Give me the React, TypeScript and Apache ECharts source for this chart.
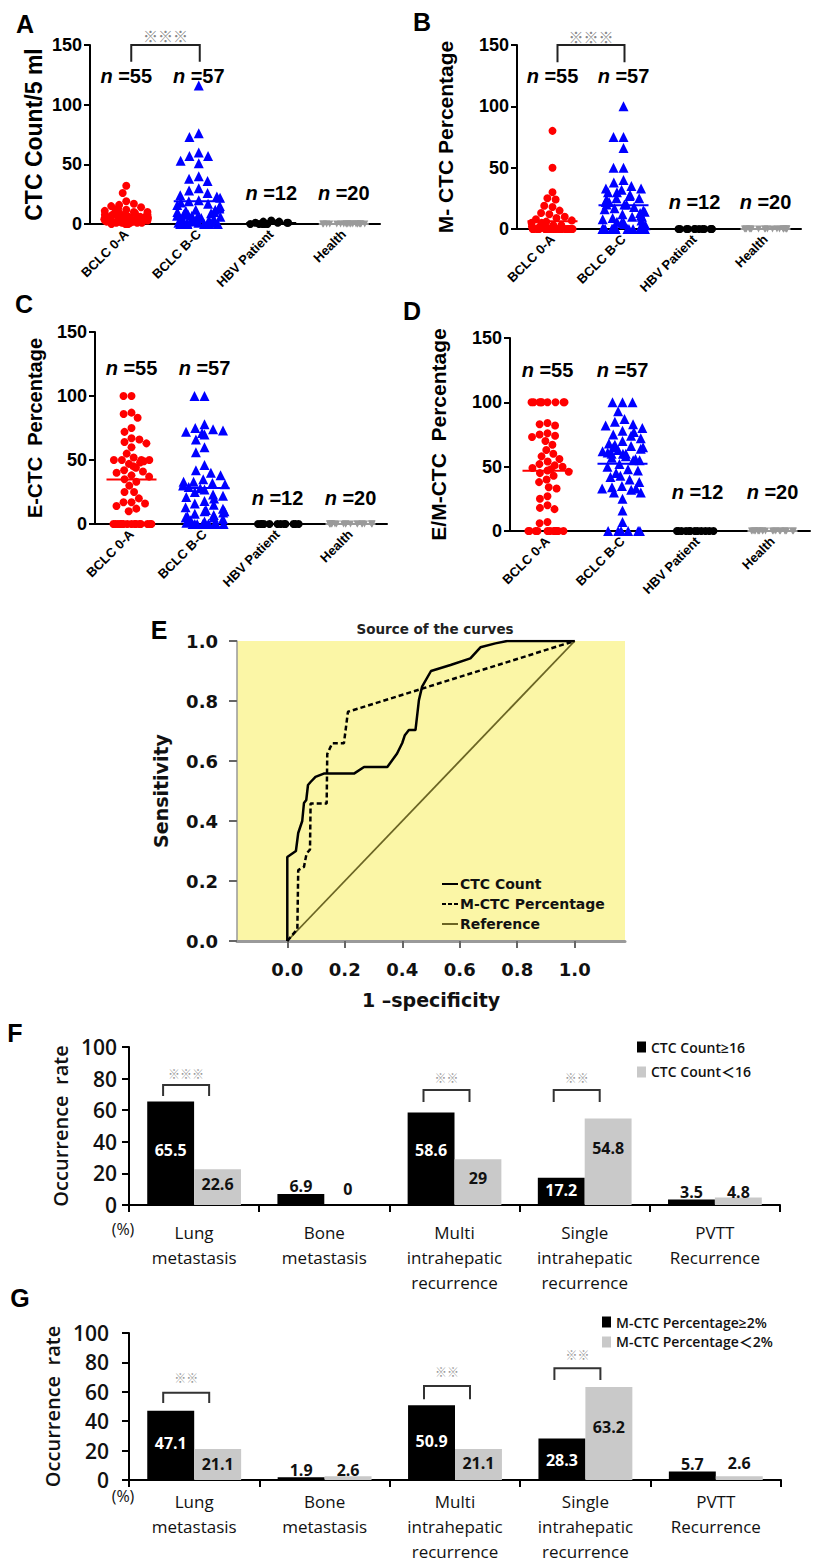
import React, { useEffect, useRef } from 'react';
import * as echarts from 'echarts';

const FONT = '"Liberation Sans", Arial, "Noto Sans CJK SC", sans-serif';
const FONTE = '"DejaVu Sans", Verdana, sans-serif';
const FONT2 = '"Open Sans", "Noto Sans", "Noto Sans CJK SC", sans-serif';
const CJK = '"Noto Sans CJK SC", "Noto Sans CJK JP", sans-serif';

// ---------- Panels A-D (scatter dot plots) ----------
const groups = ['BCLC 0-A', 'BCLC B-C', 'HBV Patient', 'Health'];
const groupN = [55, 57, 12, 20];

const ctcCount0A = [32, 26, 19, 17, 16, 15, 14, 13, 12, 12, 11, 10, 10, 9, 9, 9, 8, 8, 8, 7, 7, 7, 6, 6, 6, 6, 5, 5, 5, 5, 4, 4, 4, 4, 4, 3, 3, 3, 3, 3, 2, 2, 2, 2, 2, 2, 1, 1, 1, 1, 1, 0, 0, 0, 0];
const ctcCountBC = [116, 76, 73, 60, 57, 57, 53, 51, 40, 38, 36, 30, 28, 26, 24, 23, 22, 20, 19, 18, 17, 16, 15, 14, 13, 12, 12, 11, 10, 10, 9, 8, 8, 7, 7, 6, 6, 5, 5, 4, 4, 3, 3, 3, 2, 2, 2, 1, 1, 1, 1, 0, 0, 0, 0, 0, 0];
const ctcCountHBV = [3, 2, 2, 1, 1, 1, 1, 0, 0, 0, 0, 0];
const ctcCountHealth = [0, 0, 0, 0, 0, 0, 0, 0, 0, 0, 0, 0, 0, 0, 0, 0, 0, 0, 0, 0];

const mPct0A = [80, 50, 30, 25, 24, 19, 18, 15, 13, 12, 10, 9, 8, 7, 6, 5, 5, 4, 3, 3, 2, 2, 1, 0, 0, 0, 0, 0, 0, 0, 0, 0, 0, 0, 0, 0, 0, 0, 0, 0, 0, 0, 0, 0, 0, 0, 0, 0, 0, 0, 0, 0, 0, 0, 0];
const mPctBC = [100, 75, 75, 66, 50, 50, 40, 38, 35, 33, 33, 32, 30, 30, 28, 27, 25, 25, 24, 22, 22, 20, 20, 20, 18, 17, 16, 15, 14, 13, 12, 11, 10, 10, 9, 8, 7, 6, 5, 5, 4, 3, 2, 1, 0, 0, 0, 0, 0, 0, 0, 0, 0, 0, 0, 0, 0];
const mPctHBV = [0, 0, 0, 0, 0, 0, 0, 0, 0, 0, 0, 0];
const mPctHealth = [0, 0, 0, 0, 0, 0, 0, 0, 0, 0, 0, 0, 0, 0, 0, 0, 0, 0, 0, 0];

const ePct0A = [100, 100, 87, 86, 83, 75, 72, 67, 66, 64, 63, 60, 55, 52, 50, 50, 50, 50, 49, 48, 47, 45, 44, 42, 41, 40, 38, 37, 35, 33, 30, 25, 25, 20, 17, 17, 16, 14, 12, 10, 0, 0, 0, 0, 0, 0, 0, 0, 0, 0, 0, 0, 0, 0, 0];
const ePctBC = [100, 100, 78, 75, 74, 73, 72, 71, 70, 66, 60, 56, 46, 42, 40, 38, 35, 33, 33, 32, 31, 30, 29, 28, 27, 25, 23, 22, 21, 20, 18, 16, 15, 13, 12, 11, 10, 10, 9, 8, 7, 6, 5, 5, 4, 3, 2, 1, 0, 0, 0, 0, 0, 0, 0, 0, 0];
const ePctHBV = [0, 0, 0, 0, 0, 0, 0, 0, 0, 0, 0, 0];
const ePctHealth = [0, 0, 0, 0, 0, 0, 0, 0, 0, 0, 0, 0, 0, 0, 0, 0, 0, 0, 0, 0];

const emPct0A = [100, 100, 100, 100, 100, 100, 100, 100, 100, 84, 83, 82, 76, 75, 74, 73, 70, 67, 63, 60, 58, 56, 54, 52, 51, 50, 49, 48, 47, 46, 45, 43, 40, 38, 34, 33, 27, 25, 20, 18, 17, 7, 6, 0, 0, 0, 0, 0, 0, 0, 0, 0, 0, 0, 0];
const emPctBC = [100, 100, 100, 93, 87, 85, 83, 82, 80, 78, 77, 75, 74, 72, 70, 68, 67, 66, 65, 65, 64, 63, 62, 61, 60, 60, 60, 58, 57, 56, 55, 55, 52, 50, 48, 47, 45, 43, 42, 40, 38, 35, 34, 33, 33, 32, 30, 30, 25, 16, 7, 0, 0, 0, 0, 0, 0];
const emPctHBV = [0, 0, 0, 0, 0, 0, 0, 0, 0, 0, 0, 0];
const emPctHealth = [0, 0, 0, 0, 0, 0, 0, 0, 0, 0, 0, 0, 0, 0, 0, 0, 0, 0, 0, 0];

const panelValues = [
  [ctcCount0A, ctcCountBC, ctcCountHBV, ctcCountHealth],
  [mPct0A, mPctBC, mPctHBV, mPctHealth],
  [ePct0A, ePctBC, ePctHBV, ePctHealth],
  [emPct0A, emPctBC, emPctHBV, emPctHealth],
];
const panelYNames = ['CTC Count/5 ml', 'M- CTC Percentage', 'E-CTC  Percentage', 'E/M-CTC  Percentage'];
const scatterTicks = [0, 50, 100, 150];
const nLabelTop = [124, 125, 122, 125];
const nLabelBottom = [26, 22, 20, 30];
// significance brackets in A and B: [fromGroup, toGroup, top, legBottom, starsY]
const scatterBrackets = [[[0, 1, 150, 136, 158]], [[0, 1, 150, 136, 157]], [], []];

// ---------- Panel E (ROC) ----------
const rocCtcCount = [[0, 0], [0, 0.28], [0.03, 0.3], [0.038, 0.36], [0.045, 0.38], [0.052, 0.4], [0.058, 0.46], [0.066, 0.47], [0.072, 0.52], [0.081, 0.53], [0.098, 0.547], [0.127, 0.558], [0.232, 0.558], [0.267, 0.58], [0.348, 0.58], [0.382, 0.625], [0.4, 0.66], [0.409, 0.686], [0.423, 0.703], [0.446, 0.703], [0.458, 0.803], [0.469, 0.848], [0.5, 0.9], [0.568, 0.92], [0.637, 0.942], [0.672, 0.979], [0.724, 0.992], [0.765, 1.0], [1, 1]];
const rocMctcPct = [[0, 0], [0.035, 0.04], [0.038, 0.236], [0.058, 0.247], [0.067, 0.291], [0.079, 0.305], [0.081, 0.458], [0.137, 0.458], [0.139, 0.623], [0.156, 0.659], [0.197, 0.659], [0.211, 0.764], [1, 1]];
const rocReference = [[0, 0], [1, 1]];
const rocTicks = [0, 0.2, 0.4, 0.6, 0.8, 1.0];

// ---------- Panels F, G (bars) ----------
const outcomeCats = ['Lung\nmetastasis', 'Bone\nmetastasis', 'Multi\nintrahepatic\nrecurrence', 'Single\nintrahepatic\nrecurrence', 'PVTT\nRecurrence'];
const fNames = ['CTC Count≥16', 'CTC Count＜16'];
const fHigh = [65.5, 6.9, 58.6, 17.2, 3.5];
const fLow = [22.6, 0, 29, 54.8, 4.8];
const gNames = ['M-CTC Percentage≥2%', 'M-CTC Percentage＜2%'];
const gHigh = [47.1, 1.9, 50.9, 28.3, 5.7];
const gLow = [21.1, 2.6, 21.1, 63.2, 2.6];
const occTicks = [0, 20, 40, 60, 80, 100];
// brackets: [category, top, legBottom, starsY, starCount]
const fBrackets = [[0, 76, 69, 83.5, 3], [2, 72.8, 65.2, 81, 2], [3, 72.8, 65.2, 81, 2]];
const gBrackets = [[0, 59.3, 52.4, 69.6, 2], [2, 64, 55, 74, 2], [3, 76, 68, 85.5, 2]];

// label layout (style only): distance from bar bottom, and whether label sits inside a black bar
const fHighLabelDist = [47, 11, 47, 7, 5];
const fLowLabelDist = [13, 8, 19, 49, 5];
const gHighLabelDist = [29, 2, 31, 12, 8];
const gLowLabelDist = [8, 2, 9, 45, 9];
const fHighInside = [true, false, true, true, false];
const gHighInside = [true, false, true, true, false];

const groupColor = ['#ff0000', '#0000ff', '#000000', '#9a9a9a'];
const groupSymbol = ['circle', 'triangle', 'circle', 'triangle'];
const groupSize = [8, 10, 8, 7];
const groupRotate = [0, 0, 0, 180];

const scatterGrids = [
  { left: 90, top: 45, width: 290, height: 179 },
  { left: 517, top: 45, width: 284, height: 184 },
  { left: 95, top: 332, width: 292, height: 192 },
  { left: 510, top: 338, width: 300, height: 193 },
];
const yNameSizes = [23, 21, 20, 21];
const yNameGaps = [45, 61, 50, 61];

const SOLID_ICON = 'path://M0,0h16v2h-16z';
const DASH_ICON = 'path://M0,0h4v2h-4zM6,0h4v2h-4zM12,0h4v2h-4z';

const mean = (a: number[]) => a.reduce((s, v) => s + v, 0) / a.length;

function buildOption() {
  const grid: any[] = scatterGrids.map((g) => ({ ...g, outerBoundsMode: 'none', containLabel: false }));
  grid.push({ left: 237, top: 641, width: 388, height: 300, show: true, backgroundColor: '#fbf6a6', borderWidth: 0, outerBoundsMode: 'none', containLabel: false });
  grid.push({ left: 129, top: 1047, width: 651, height: 158, outerBoundsMode: 'none', containLabel: false });
  grid.push({ left: 129, top: 1333, width: 652, height: 147, outerBoundsMode: 'none', containLabel: false });

  const xAxis: any[] = [];
  const yAxis: any[] = [];
  const series: any[] = [];

  for (let p = 0; p < 4; p++) {
    xAxis.push({
      type: 'category', gridIndex: p, data: groups, boundaryGap: true,
      jitter: 44, jitterOverlap: false, jitterMargin: 0,
      axisLine: { lineStyle: { color: '#000', width: 2 } },
      axisTick: { show: false },
      axisLabel: { interval: 0, rotate: 45, fontSize: 13, fontWeight: 'bold', color: '#000', fontFamily: FONT, margin: 8 },
      splitLine: { show: false },
    });
    yAxis.push({
      type: 'value', gridIndex: p, min: scatterTicks[0], max: scatterTicks[scatterTicks.length - 1], interval: scatterTicks[1] - scatterTicks[0],
      name: panelYNames[p], nameLocation: 'middle', nameGap: yNameGaps[p], nameRotate: 90,
      nameTextStyle: { fontSize: yNameSizes[p], fontWeight: 'bold', color: '#000', fontFamily: FONT },
      axisLine: { show: true, lineStyle: { color: '#000', width: 2 } },
      axisTick: { show: true, length: 6, lineStyle: { color: '#000', width: 2 } },
      axisLabel: { fontSize: 18, fontWeight: 'bold', color: '#000', fontFamily: FONT, margin: 8 },
      splitLine: { show: false },
    });
    for (let g = 0; g < 4; g++) {
      series.push({
        type: 'scatter', xAxisIndex: p, yAxisIndex: p, silent: true, z: 3,
        data: panelValues[p][g].map((v) => [groups[g], v]),
        symbol: groupSymbol[g], symbolSize: groupSize[g], symbolRotate: groupRotate[g],
        itemStyle: { color: groupColor[g], opacity: 1 },
      });
    }
    series.push({
      type: 'custom', xAxisIndex: p, yAxisIndex: p, clip: false, silent: true, z: 5,
      data: panelValues[p].map((arr, g) => [g, mean(arr), g]),
      renderItem: (params: any, api: any) => {
        const c = api.coord([api.value(0), api.value(1)]);
        const g = api.value(2);
        return { type: 'line', shape: { x1: c[0] - 25, y1: c[1], x2: c[0] + 25, y2: c[1] }, style: { stroke: groupColor[g], lineWidth: 2 } };
      },
    });
    series.push({
      type: 'custom', xAxisIndex: p, yAxisIndex: p, clip: false, silent: true, z: 6,
      data: groups.map((_, g) => [g, g < 2 ? nLabelTop[p] : nLabelBottom[p], groupN[g]]),
      renderItem: (params: any, api: any) => {
        const c = api.coord([api.value(0), api.value(1)]);
        return {
          type: 'text', x: c[0], y: c[1],
          style: {
            text: '{i|n} =' + api.value(2), fill: '#000', fontSize: 20, fontWeight: 'bold', fontFamily: FONT,
            align: 'center', verticalAlign: 'middle',
            rich: { i: { fontStyle: 'italic', fontWeight: 'bold', fontSize: 20, fontFamily: FONT, fill: '#000' } },
          },
        };
      },
    });
    if (scatterBrackets[p].length) {
      series.push({
        type: 'custom', xAxisIndex: p, yAxisIndex: p, clip: false, silent: true, z: 6,
        data: scatterBrackets[p],
        renderItem: (params: any, api: any) => {
          const a = api.coord([api.value(0), api.value(2)]);
          const b = api.coord([api.value(1), api.value(2)]);
          const leg = api.coord([api.value(0), api.value(3)])[1];
          const s = api.coord([api.value(0), api.value(4)])[1];
          const x1 = a[0] + 5;
          const x2 = b[0] + 1;
          return {
            type: 'group', children: [
              { type: 'polyline', shape: { points: [[x1, leg], [x1, a[1]], [x2, a[1]], [x2, leg]] }, style: { stroke: '#222', lineWidth: 2, fill: 'none' } },
              { type: 'text', x: (x1 + x2) / 2, y: s, style: { text: '※※※', fill: '#888', fontSize: 15, fontFamily: CJK, align: 'center', verticalAlign: 'middle' } },
            ],
          };
        },
      });
    }
  }

  // ---- E ----
  xAxis.push({
    type: 'value', gridIndex: 4, min: -0.175, max: 1.175,
    name: '1 –specificity', nameLocation: 'middle', nameGap: 49,
    nameTextStyle: { fontSize: 19, fontWeight: 'bold', color: '#111', fontFamily: FONTE },
    axisLine: { show: true, onZero: false, lineStyle: { color: '#9a9a9a', width: 3 } },
    axisTick: { show: true, customValues: rocTicks, length: 7, lineStyle: { color: '#666', width: 2 } },
    axisLabel: { customValues: rocTicks, formatter: (v: number) => v.toFixed(1), fontSize: 18, fontWeight: 'bold', color: '#111', fontFamily: FONTE, margin: 19 },
    splitLine: { show: false },
  });
  yAxis.push({
    type: 'value', gridIndex: 4, min: 0, max: 1, interval: 0.2,
    name: 'Sensitivity', nameLocation: 'middle', nameGap: 67, nameRotate: 90,
    nameTextStyle: { fontSize: 19, fontWeight: 'bold', color: '#111', fontFamily: FONTE },
    axisLine: { show: true, onZero: false, lineStyle: { color: '#999', width: 1.5 } },
    axisTick: { show: true, length: 8, lineStyle: { color: '#666', width: 2 } },
    axisLabel: { formatter: (v: number) => v.toFixed(1), fontSize: 18, fontWeight: 'bold', color: '#111', fontFamily: FONTE, margin: 19 },
    splitLine: { show: false },
  });
  series.push(
    { name: 'CTC Count', type: 'line', xAxisIndex: 4, yAxisIndex: 4, data: rocCtcCount, symbol: 'none', lineStyle: { color: '#000', width: 2.5 }, itemStyle: { color: '#000' }, z: 4 },
    { name: 'M-CTC Percentage', type: 'line', xAxisIndex: 4, yAxisIndex: 4, data: rocMctcPct, symbol: 'none', lineStyle: { color: '#000', width: 2.5, type: [5, 3] }, itemStyle: { color: '#000' }, z: 4 },
    { name: 'Reference', type: 'line', xAxisIndex: 4, yAxisIndex: 4, data: rocReference, symbol: 'none', lineStyle: { color: '#6b6524', width: 1.8 }, itemStyle: { color: '#6b6524' }, z: 3 },
  );

  // ---- F, G ----
  const barPanels = [
    { grid: 5, names: fNames, high: fHigh, low: fLow, hd: fHighLabelDist, ld: fLowLabelDist, hin: fHighInside, br: fBrackets, labelMargin: 15, yMargin: 12, nameGap: 54 },
    { grid: 6, names: gNames, high: gHigh, low: gLow, hd: gHighLabelDist, ld: gLowLabelDist, hin: gHighInside, br: gBrackets, labelMargin: 9, yMargin: 20, nameGap: 65 },
  ];
  barPanels.forEach((bp) => {
    xAxis.push({
      type: 'category', gridIndex: bp.grid, data: outcomeCats, boundaryGap: true,
      axisLine: { lineStyle: { color: '#000', width: 2 } },
      axisTick: { show: true, alignWithLabel: false, length: 7, lineStyle: { color: '#000', width: 2 } },
      axisLabel: { interval: 0, fontSize: 17, lineHeight: 25, color: '#111', fontFamily: FONT2, margin: bp.labelMargin },
      splitLine: { show: false },
    });
    yAxis.push({
      type: 'value', gridIndex: bp.grid, min: occTicks[0], max: occTicks[occTicks.length - 1], interval: occTicks[1] - occTicks[0],
      name: 'Occurrence  rate', nameLocation: 'middle', nameGap: bp.nameGap, nameRotate: 90,
      nameTextStyle: { fontSize: 20, fontWeight: 600, color: '#111', fontFamily: FONT2 },
      axisLine: { show: true, lineStyle: { color: '#000', width: 2 } },
      axisTick: { show: true, length: 7, lineStyle: { color: '#000', width: 2 } },
      axisLabel: { fontSize: 21, fontWeight: 600, color: '#111', fontFamily: FONT2, margin: bp.yMargin },
      splitLine: { show: false },
    });
    const lbl = { show: true, position: 'insideBottom', fontSize: 16, fontWeight: 'bold', fontFamily: FONT2 };
    series.push({
      name: bp.names[0], type: 'bar', xAxisIndex: bp.grid, yAxisIndex: bp.grid, barGap: '0%', barCategoryGap: '28%',
      itemStyle: { color: '#000' }, label: lbl, silent: true,
      data: bp.high.map((v, i) => ({ value: v, label: { distance: bp.hd[i], color: bp.hin[i] ? '#fff' : '#111' } })),
    });
    series.push({
      name: bp.names[1], type: 'bar', xAxisIndex: bp.grid, yAxisIndex: bp.grid, barGap: '0%', barCategoryGap: '28%',
      itemStyle: { color: '#c9c9c9' }, label: lbl, silent: true,
      data: bp.low.map((v, i) => ({ value: v, label: { distance: bp.ld[i], color: '#111' } })),
    });
    series.push({
      type: 'custom', xAxisIndex: bp.grid, yAxisIndex: bp.grid, clip: false, silent: true, z: 6,
      data: bp.br,
      renderItem: (params: any, api: any) => {
        const c = api.coord([api.value(0), api.value(1)]);
        const leg = api.coord([api.value(0), api.value(2)])[1];
        const s = api.coord([api.value(0), api.value(3)])[1];
        const x1 = c[0] - 31;
        const x2 = c[0] + 15;
        const stars = '※'.repeat(api.value(4));
        return {
          type: 'group', children: [
            { type: 'polyline', shape: { points: [[x1, leg], [x1, c[1]], [x2, c[1]], [x2, leg]] }, style: { stroke: '#333', lineWidth: 2, fill: 'none' } },
            { type: 'text', x: (x1 + x2) / 2, y: s, style: { text: stars, fill: '#999', fontSize: 12, fontFamily: CJK, align: 'center', verticalAlign: 'middle' } },
          ],
        };
      },
    });
  });

  const legend = [
    {
      data: [
        { name: 'CTC Count', icon: SOLID_ICON },
        { name: 'M-CTC Percentage', icon: DASH_ICON },
        { name: 'Reference', icon: SOLID_ICON },
      ],
      orient: 'vertical', left: 437, top: 872,
      itemWidth: 16, itemHeight: 3, itemGap: 6, selectedMode: false,
      textStyle: { fontSize: 14, fontWeight: 'bold', color: '#111', fontFamily: FONTE, padding: [0, 0, 0, -3] },
    },
    {
      data: fNames, orient: 'vertical', left: 632, top: 1035, icon: 'rect',
      itemWidth: 9, itemHeight: 11, itemGap: 11, selectedMode: false,
      textStyle: { fontSize: 14, color: '#111', fontFamily: FONT2, fontWeight: 600 },
    },
    {
      data: gNames, orient: 'vertical', left: 597, top: 1310, icon: 'rect',
      itemWidth: 9, itemHeight: 11, itemGap: 6, selectedMode: false,
      textStyle: { fontSize: 14, color: '#111', fontFamily: FONT2, fontWeight: 600 },
    },
  ];

  const letter = (t: string, x: number, y: number) => ({
    type: 'text', x, y, z: 10,
    style: { text: t, fontSize: 25, fontWeight: 'bold', fontFamily: FONT, fill: '#000', align: 'center', verticalAlign: 'middle' },
  });
  const graphic = [
    letter('A', 25, 24), letter('B', 422, 22), letter('C', 24, 304), letter('D', 412, 311),
    letter('E', 159, 630), letter('F', 15, 1033), letter('G', 20, 1298),
    { type: 'text', x: 435, y: 629, style: { text: 'Source of the curves', fontSize: 13.5, fontWeight: 'bold', fontFamily: FONTE, fill: '#222', align: 'center', verticalAlign: 'middle' } },
    { type: 'text', x: 123, y: 1229, style: { text: '(%)', fontSize: 16, fontFamily: FONT2, fill: '#111', align: 'center', verticalAlign: 'middle' } },
    { type: 'text', x: 123, y: 1496, style: { text: '(%)', fontSize: 16, fontFamily: FONT2, fill: '#111', align: 'center', verticalAlign: 'middle' } },
  ];

  return {
    animation: false,
    backgroundColor: '#ffffff',
    textStyle: { fontFamily: FONT },
    grid, xAxis, yAxis, series, legend, graphic,
  };
}

export default function App() {
  const ref = useRef<HTMLDivElement>(null);
  useEffect(() => {
    if (!ref.current) return;
    const chart = echarts.init(ref.current, null, { renderer: 'svg' });
    chart.setOption(buildOption() as any);
    return () => chart.dispose();
  }, []);
  return <div ref={ref} style={{ position: 'absolute', left: 0, top: 0, width: 815, height: 1562, background: '#fff' }} />;
}
